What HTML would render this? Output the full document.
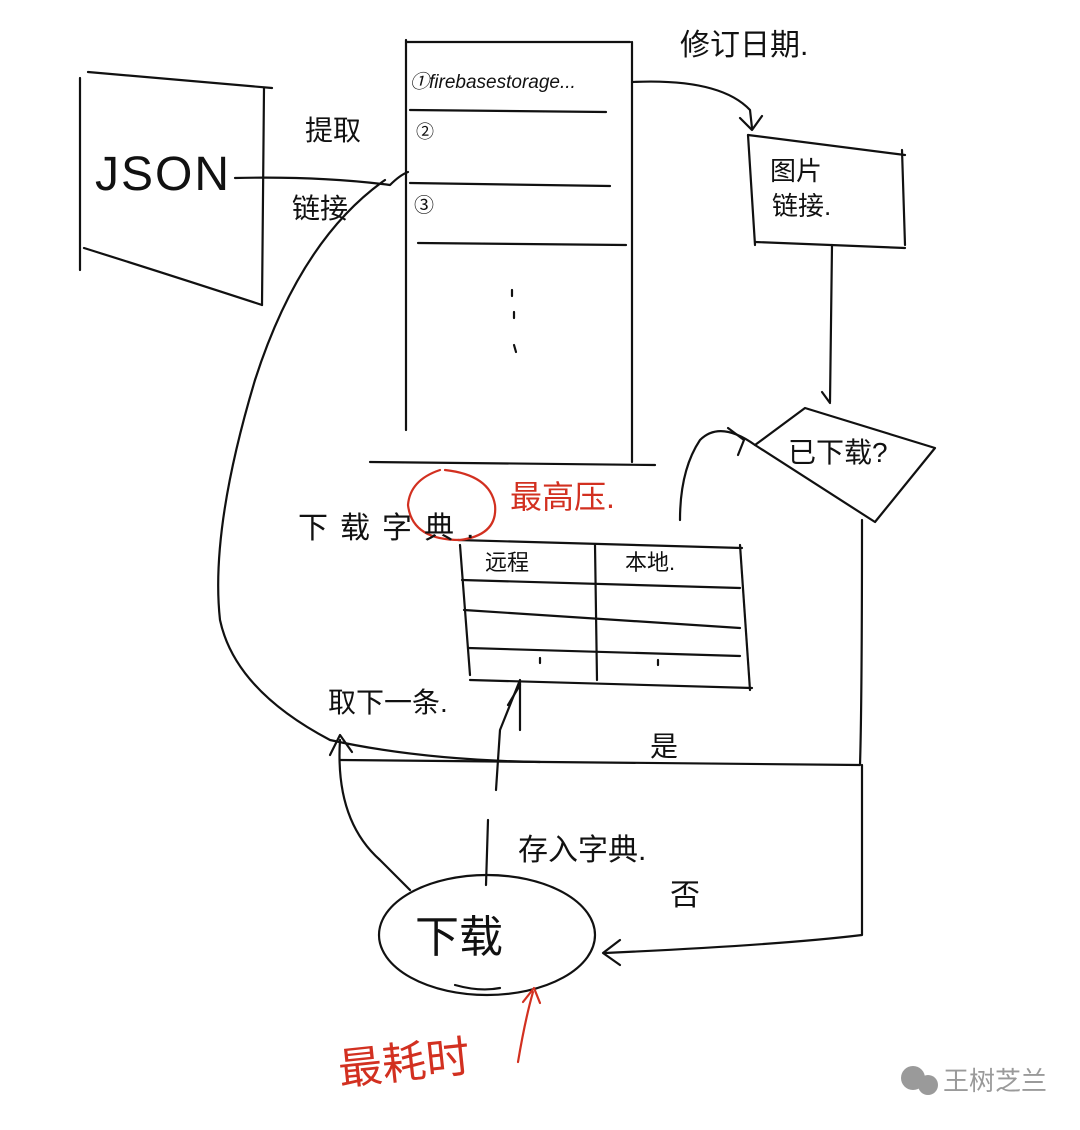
<!DOCTYPE html>
<html><head><meta charset="utf-8"><style>
html,body{margin:0;padding:0;background:#fff;}
svg{display:block}
text{font-family:"Liberation Sans","Noto Sans CJK SC",sans-serif;}
</style></head><body>
<svg width="1080" height="1130" viewBox="0 0 1080 1130" xmlns="http://www.w3.org/2000/svg">
<g fill="none" stroke="#111" stroke-width="2.2" stroke-linecap="round" stroke-linejoin="round">
<path d="M80 78 L80 270"/>
<path d="M88 72 Q180 80 272 88"/>
<path d="M264 88 L262 305"/>
<path d="M84 248 Q170 275 262 305"/>
<path d="M235 178 Q320 176 390 185 Q400 175 408 172"/>
<path d="M406 40 L406 430"/>
<path d="M406 42 L630 42"/>
<path d="M632 42 L632 462"/>
<path d="M410 110 L606 112"/>
<path d="M410 183 L610 186"/>
<path d="M418 243 L626 245"/>
<path d="M370 462 L655 465"/>
<path d="M512 290 L512 296 M514 312 L514 318 M514 345 L516 352"/>
<path d="M632 82 Q720 78 750 110 L752 128"/>
<path d="M740 118 L752 130 L762 116"/>
<path d="M748 135 L905 155"/>
<path d="M748 135 L755 245"/>
<path d="M902 150 L905 245"/>
<path d="M755 242 L905 248"/>
<path d="M832 245 L830 402"/>
<path d="M822 392 L830 403"/>
<path d="M755 445 L805 408 L935 448 L875 522 Z"/>
<path d="M755 445 Q720 420 700 440 Q680 470 680 520"/>
<path d="M728 428 L744 440 L738 455"/>
<path d="M458 540 L742 548"/>
<path d="M460 545 L470 675"/>
<path d="M740 545 L750 690"/>
<path d="M462 580 L740 588"/>
<path d="M464 610 L740 628"/>
<path d="M468 648 L740 656"/>
<path d="M470 680 L752 688"/>
<path d="M595 545 L597 680"/>
<path d="M540 658 L540 663 M658 660 L658 665"/>
<path d="M440 470 Q410 480 408 505 Q412 540 460 540 Q498 535 495 505 Q490 475 445 470" stroke="#d23020"/>
<path d="M385 180 Q300 240 255 380 Q210 530 220 620 Q235 690 330 740 Q420 760 540 762"/>
<path d="M340 760 L860 765 Q862 700 862 520"/>
<path d="M340 740 Q335 820 380 860 Q405 885 410 890"/>
<path d="M330 755 L340 735 L352 752"/>
<path d="M496 790 L500 730 L520 680 L520 730"/>
<path d="M508 705 L520 685"/>
<path d="M488 820 L486 885"/>
<path d="M862 765 L862 935 Q780 945 605 953"/>
<path d="M620 940 L603 953 L620 965"/>
<ellipse cx="487" cy="935" rx="108" ry="60"/>
<path d="M455 985 Q480 992 500 988"/>
<path d="M518 1062 Q525 1020 533 992" stroke="#d23020"/>
<path d="M523 1002 L534 988 L540 1003" stroke="#d23020"/>
</g>
<g fill="#111">
<text x="95" y="190" font-size="48" font-family="Liberation Sans" letter-spacing="2">JSON</text>
<text x="305" y="140" font-size="28">提取</text>
<text x="292" y="218" font-size="28">链接</text>
<text x="410" y="88" font-size="19" font-style="italic">①firebasestorage...</text>
<text x="416" y="138" font-size="18">②</text>
<text x="414" y="212" font-size="20">③</text>
<text x="680" y="55" font-size="30">修订日期.</text>
<text x="770" y="180" font-size="26">图片</text>
<text x="772" y="215" font-size="26">链接.</text>
<text x="788" y="462" font-size="28">已下载?</text>
<text x="298" y="538" font-size="30" letter-spacing="12">下载字典.</text>
<text x="485" y="570" font-size="22">远程</text>
<text x="625" y="570" font-size="22">本地.</text>
<text x="328" y="712" font-size="28">取下一条.</text>
<text x="650" y="756" font-size="28">是</text>
<text x="518" y="860" font-size="30">存入字典.</text>
<text x="670" y="905" font-size="30">否</text>
<text x="415" y="952" font-size="44">下载</text>
</g>
<g fill="#d23020">
<text x="510" y="508" font-size="32">最高压.</text>
<text x="340" y="1085" font-size="44" transform="rotate(-6 340 1085)">最耗时</text>
</g>
<g fill="#9a9a9a">
<circle cx="913" cy="1078" r="12"/>
<circle cx="928" cy="1085" r="10"/>
<text x="943" y="1090" font-size="26">王树芝兰</text>
</g>
</svg>
</body></html>
